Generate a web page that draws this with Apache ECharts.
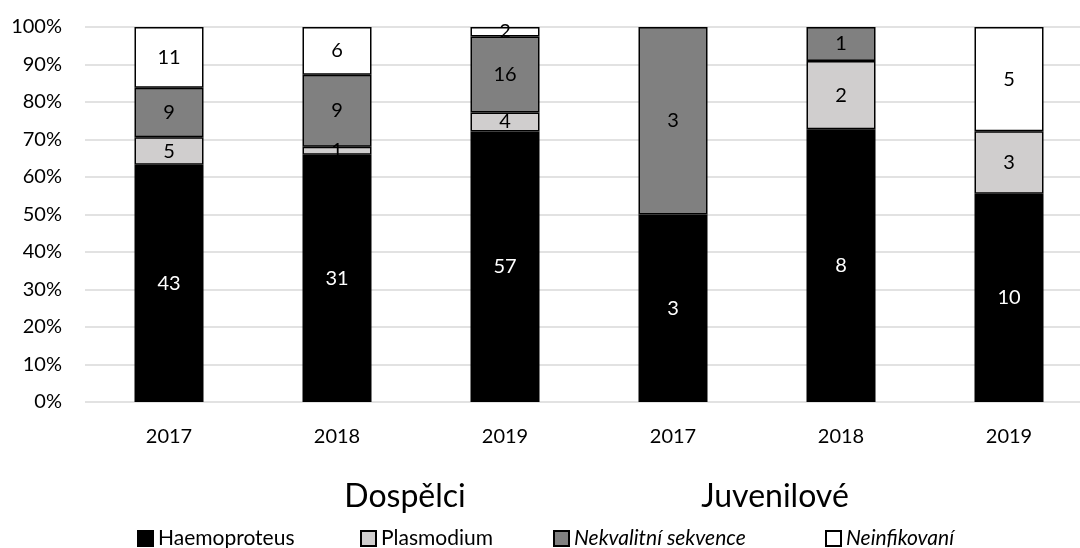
<!DOCTYPE html>
<html>
<head>
<meta charset="utf-8">
<script src="https://cdn.jsdelivr.net/npm/echarts@6/dist/echarts.min.js"></script>
<style>
  html, body { margin: 0; padding: 0; background: #fff; }
  #chart { width: 1080px; height: 548px; }
</style>
</head>
<body>
<div id="chart"></div>
<script>
// Sample years, grouped as adults (first three) and juveniles (last three)
const years = ['2017', '2018', '2019', '2017', '2018', '2019'];
const groups = ['Dospělci', 'Juvenilové'];

// Counts of individuals per infection status
const haemoproteus = [43, 31, 57, 3, 8, 10];
const plasmodium   = [5, 1, 4, 0, 2, 3];
const nekvalitni   = [9, 9, 16, 3, 1, 0];
const neinfikovani = [11, 6, 2, 0, 0, 5];

const yTicks = [0, 10, 20, 30, 40, 50, 60, 70, 80, 90, 100];

const FONT = 'Lato, "Open Sans", sans-serif';

const totals = years.map((_, i) =>
  haemoproteus[i] + plasmodium[i] + nekvalitni[i] + neinfikovani[i]);

// Share of each status in its column; empty statuses are left out of the stack
function toPercent(arr) {
  return arr.map((v, i) => v > 0 ? v / totals[i] * 100 : null);
}

function makeSeries(name, counts, fill, labelColor) {
  return {
    name: name,
    type: 'bar',
    stack: 'share',
    barWidth: 69,
    data: toPercent(counts),
    itemStyle: { color: fill, borderColor: '#000', borderWidth: 1.5 },
    label: {
      show: true,
      position: 'inside',
      color: labelColor,
      fontFamily: FONT,
      fontSize: 20,
      formatter: p => counts[p.dataIndex] > 0 ? String(counts[p.dataIndex]) : ''
    },
    emphasis: { disabled: true }
  };
}

const series = [
  makeSeries('Haemoproteus', haemoproteus, '#000000', '#ffffff'),
  makeSeries('Plasmodium', plasmodium, '#d0cece', '#000000'),
  makeSeries('Nekvalitní sekvence', nekvalitni, '#808080', '#000000'),
  makeSeries('Neinfikovaní', neinfikovani, '#ffffff', '#000000')
];

function legendFor(name, left, italic) {
  return {
    data: [name],
    left: left,
    top: 528,
    itemWidth: 15,
    itemHeight: 15,
    itemGap: 0,
    padding: 0,
    selectedMode: false,
    icon: 'rect',
    textStyle: {
      fontFamily: FONT,
      fontSize: 21,
      color: '#000',
      fontStyle: italic ? 'italic' : 'normal'
    }
  };
}

const chart = echarts.init(document.getElementById('chart'), null, { renderer: 'canvas' });

chart.setOption({
  animation: false,
  backgroundColor: '#ffffff',
  // The plot runs slightly past the right edge of the canvas
  grid: { left: 85, top: 27, width: 1008, height: 375, containLabel: false, outerBoundsMode: 'none' },
  xAxis: {
    type: 'category',
    data: years,
    axisLine: { show: false },
    axisTick: { show: false },
    axisLabel: { color: '#000', fontFamily: FONT, fontSize: 20, margin: 25 }
  },
  yAxis: {
    type: 'value',
    min: yTicks[0],
    max: yTicks[yTicks.length - 1],
    interval: yTicks[1] - yTicks[0],
    axisLine: { show: false },
    axisTick: { show: false },
    axisLabel: { color: '#000', fontFamily: FONT, fontSize: 20, margin: 23, formatter: '{value}%' },
    splitLine: { lineStyle: { color: '#d9d9d9', width: 1.5 } }
  },
  legend: [
    legendFor('Haemoproteus', 137, false),
    legendFor('Plasmodium', 360, false),
    legendFor('Nekvalitní sekvence', 553, true),
    legendFor('Neinfikovaní', 825, true)
  ],
  graphic: [
    {
      type: 'text', x: 405, y: 497,
      style: { text: groups[0], fontFamily: FONT, fontSize: 32, fill: '#000', align: 'center', verticalAlign: 'middle' }
    },
    {
      type: 'text', x: 775, y: 497,
      style: { text: groups[1], fontFamily: FONT, fontSize: 32, fill: '#000', align: 'center', verticalAlign: 'middle' }
    }
  ],
  series: series
});
</script>
</body>
</html>
